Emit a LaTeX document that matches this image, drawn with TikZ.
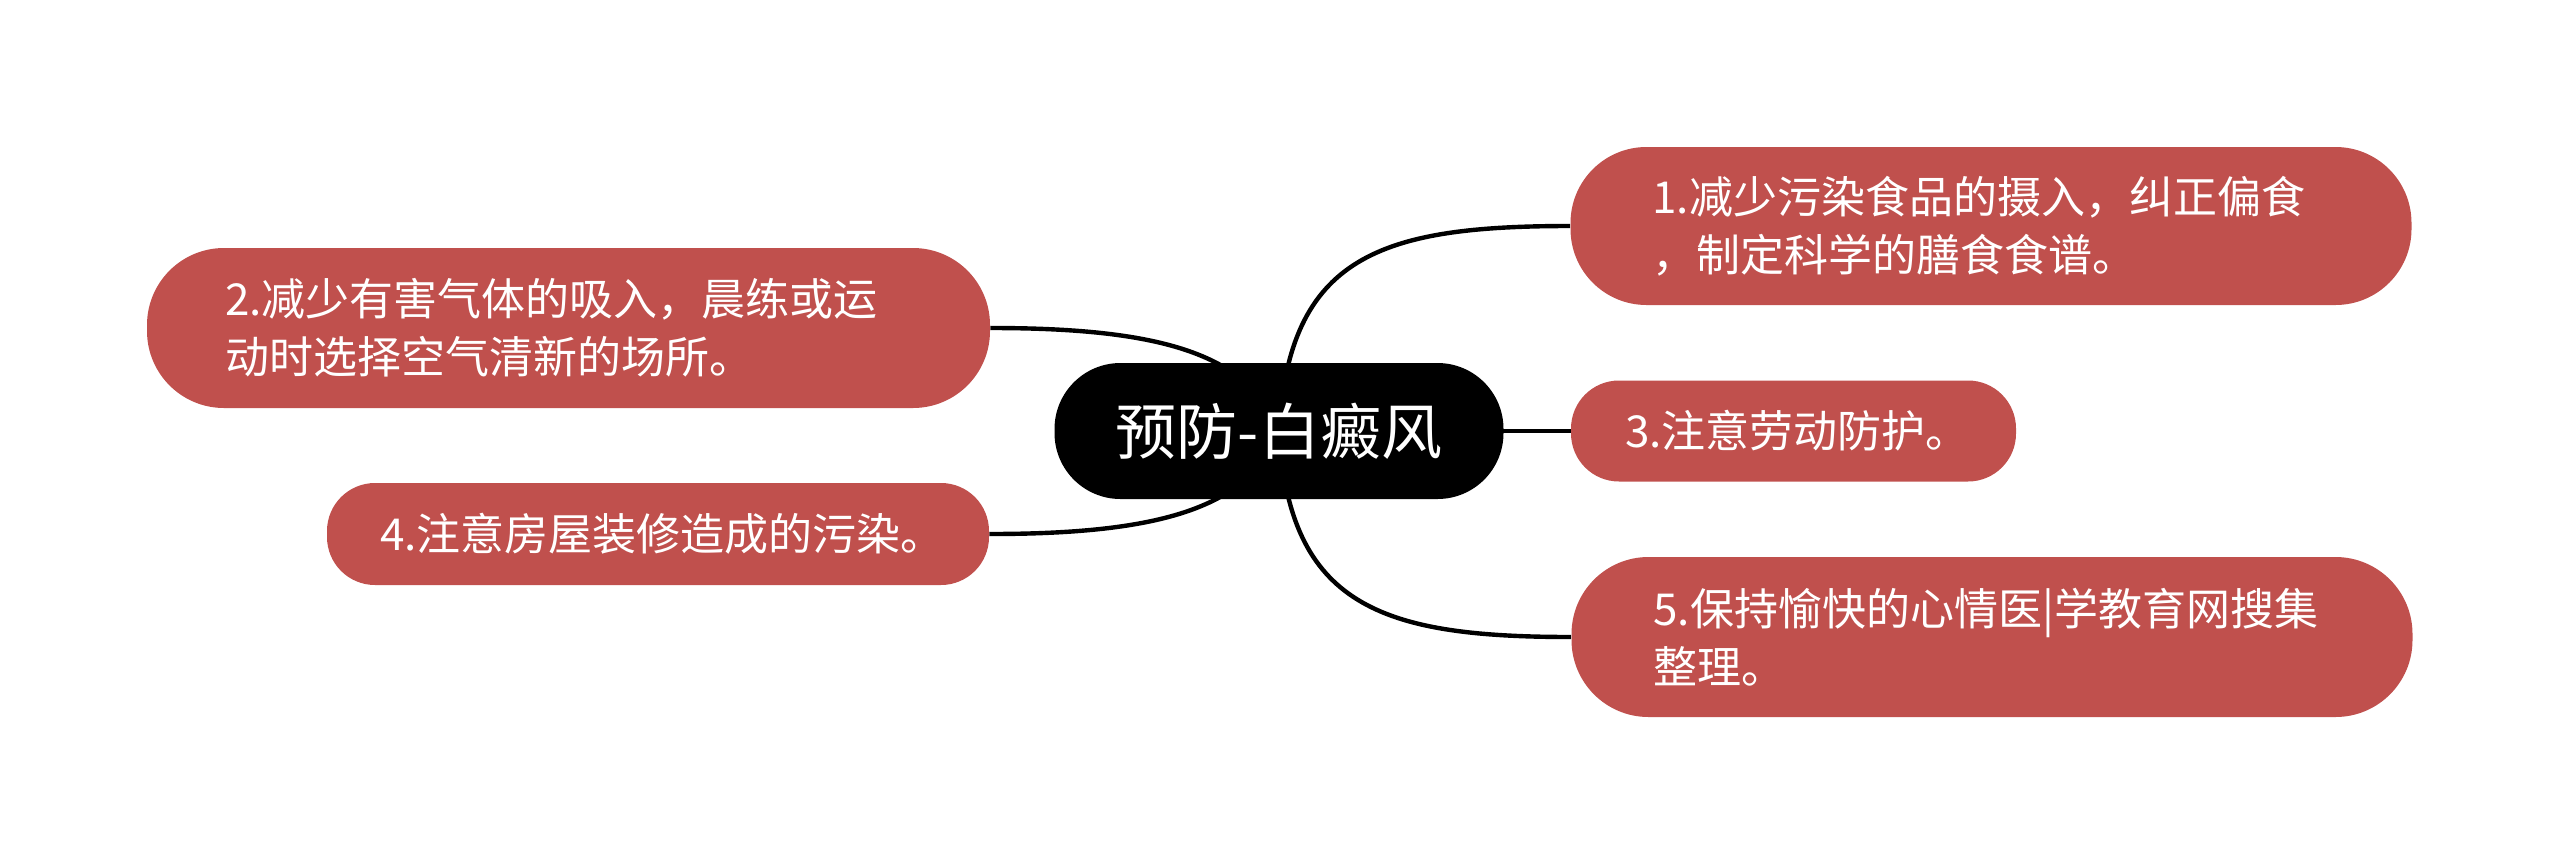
\documentclass[tikz,border=0pt]{standalone}
\usepackage{fontspec}
\setmainfont{Noto Sans CJK SC}
\usetikzlibrary{backgrounds}
\definecolor{topicred}{RGB}{192,80,77}
\begin{document}
\begin{tikzpicture}[x=0.5pt,y=-0.5pt,
  centraltopic/.style={fill=black, text=white, rounded corners=33pt, minimum width=224.5pt, minimum height=68pt, inner sep=0pt, font=\fontsize{30.5pt}{36pt}\selectfont},
  topic/.style={fill=topicred, text=white, font=\fontsize{22pt}{29pt}\selectfont, align=left, inner ysep=0pt},
  link/.style={line width=2.2pt, draw=black}]
\useasboundingbox (0,0) rectangle (2560,863);
\node[centraltopic] (c) at (1279,431) {预防-白癜风};
\node[topic, rounded corners=38pt, text width=338.5pt, inner xsep=41pt, minimum height=79pt] (n1) at (1991,226) {1.减少污染食品的摄入，纠正偏食\\，制定科学的膳食食谱。};
\node[topic, rounded corners=38.5pt, text width=343.5pt, inner xsep=39pt, minimum height=80pt] (n2) at (568.5,328) {2.减少有害气体的吸入，晨练或运\\动时选择空气清新的场所。};
\node[topic, rounded corners=24pt, text width=168.5pt, inner xsep=27pt, minimum height=50.5pt] (n3) at (1793.5,431) {3.注意劳动防护。};
\node[topic, rounded corners=24pt, text width=278pt, inner xsep=26.5pt, minimum height=51pt] (n4) at (658,534) {4.注意房屋装修造成的污染。};
\node[topic, rounded corners=38.5pt, text width=338.5pt, inner xsep=41pt, minimum height=80pt] (n5) at (1992,637) {5.保持愉快的心情医|学教育网搜集\\整理。};
\begin{scope}[on background layer]
\draw[link] (c.center) .. controls +(10,-175) and +(-190,0) .. (n1.west);
\draw[link] (c.center) -- (n3.west);
\draw[link] (c.center) .. controls +(10,175) and +(-190,0) .. (n5.west);
\draw[link] (n2.east) .. controls +(162,0) and +(-30,-80) .. (c.center);
\draw[link] (n4.east) .. controls +(162,0) and +(-30,80) .. (c.center);
\end{scope}
\end{tikzpicture}
\end{document}
